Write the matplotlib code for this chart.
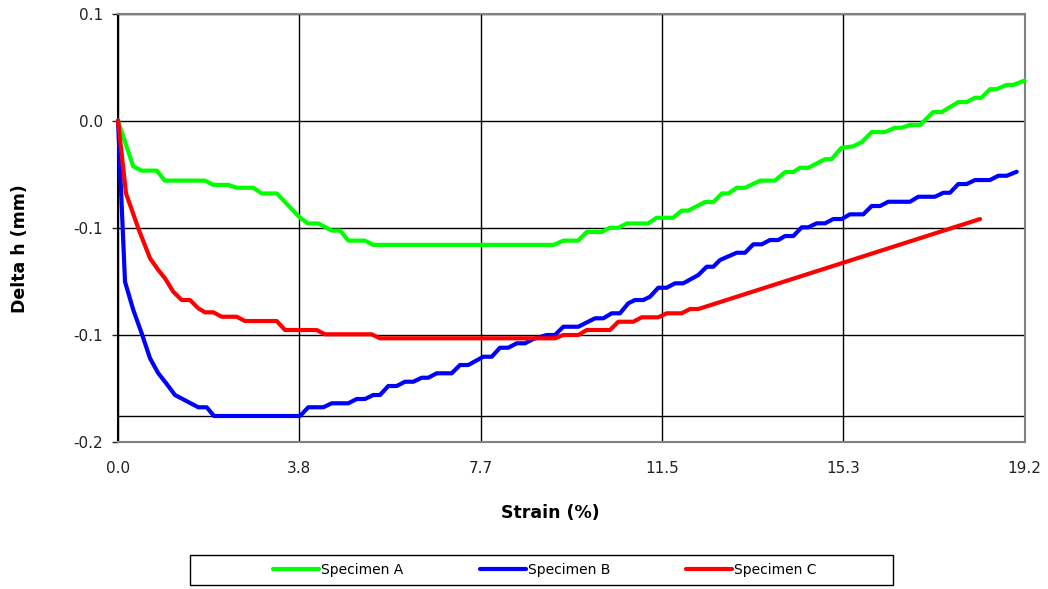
import matplotlib
matplotlib.use("Agg")
import matplotlib.pyplot as plt
from matplotlib.patches import Rectangle

# Strain (%) / Delta h (mm)
strain_a = [0, 0.32, 0.50, 0.82, 0.99, 1.84, 2.02, 2.33, 2.51, 2.86, 3.04, 3.36,
            3.85, 4.02, 4.24, 4.52, 4.70, 4.87, 5.22, 5.40, 9.21, 9.42, 9.73, 9.91,
            10.23, 10.40, 10.58, 10.76, 11.21, 11.39, 11.74, 11.92, 12.06, 12.41,
            12.59, 12.77, 12.91, 13.08, 13.26, 13.58, 13.89, 14.11, 14.28, 14.42,
            14.60, 14.95, 15.09, 15.30, 15.55, 15.73, 15.94, 16.22, 16.43, 16.57,
            16.75, 16.96, 17.24, 17.42, 17.77, 17.95, 18.12, 18.26, 18.44, 18.58,
            18.79, 18.93, 19.17]
delta_a = [0.025, -0.007, -0.010, -0.010, -0.017, -0.017, -0.020, -0.020, -0.022,
           -0.022, -0.026, -0.026, -0.043, -0.047, -0.047, -0.052, -0.052, -0.059,
           -0.059, -0.062, -0.062, -0.059, -0.059, -0.053, -0.053, -0.050, -0.050,
           -0.047, -0.047, -0.043, -0.043, -0.038, -0.038, -0.032, -0.032, -0.026,
           -0.026, -0.022, -0.022, -0.017, -0.017, -0.011, -0.011, -0.008, -0.008,
           -0.002, -0.002, 0.006, 0.007, 0.010, 0.017, 0.017, 0.020, 0.020, 0.022,
           0.022, 0.031, 0.031, 0.038, 0.038, 0.041, 0.041, 0.047, 0.047, 0.050,
           0.050, 0.053]

strain_b = [0, 0.042, 0.148, 0.324, 0.501, 0.677, 0.852, 0.994, 1.205, 1.698, 1.876,
            2.030, 3.849, 4.024, 4.341, 4.519, 4.870, 5.048, 5.223, 5.399, 5.540,
            5.716, 5.894, 6.069, 6.245, 6.422, 6.562, 6.740, 7.057, 7.232, 7.408,
            7.725, 7.903, 8.078, 8.254, 8.431, 8.607, 8.782, 9.066, 9.241, 9.417,
            9.734, 10.087, 10.263, 10.440, 10.616, 10.791, 10.933, 11.108, 11.250,
            11.426, 11.603, 11.779, 11.954, 12.272, 12.449, 12.589, 12.730, 13.084,
            13.259, 13.435, 13.613, 13.788, 13.963, 14.105, 14.280, 14.458, 14.598,
            14.775, 14.951, 15.126, 15.304, 15.479, 15.761, 15.938, 16.114, 16.289,
            16.748, 16.924, 17.277, 17.453, 17.594, 17.770, 17.947, 18.123, 18.440,
            18.616, 18.793, 19.005]
delta_b = [0.025, -0.007, -0.0878, -0.1076, -0.1239, -0.1414, -0.1519, -0.1578,
           -0.1671, -0.1757, -0.1757, -0.1818, -0.1818, -0.1757, -0.1757, -0.1729,
           -0.1729, -0.1699, -0.1699, -0.1671, -0.1671, -0.1608, -0.1608, -0.1578,
           -0.1578, -0.1550, -0.1550, -0.1519, -0.1519, -0.1461, -0.1461, -0.1403,
           -0.1403, -0.1340, -0.1340, -0.1309, -0.1309, -0.1279, -0.1251, -0.1251,
           -0.1193, -0.1193, -0.1134, -0.1134, -0.1099, -0.1099, -0.1029, -0.1006,
           -0.1006, -0.0983, -0.0920, -0.0920, -0.0889, -0.0889, -0.0831, -0.0773,
           -0.0773, -0.0726, -0.0675, -0.0675, -0.0616, -0.0616, -0.0586, -0.0586,
           -0.0558, -0.0558, -0.0497, -0.0497, -0.0469, -0.0469, -0.0439, -0.0439,
           -0.0406, -0.0406, -0.0348, -0.0348, -0.0318, -0.0318, -0.0283, -0.0283,
           -0.0255, -0.0255, -0.0194, -0.0194, -0.0166, -0.0166, -0.0136, -0.0136,
           -0.0108]

strain_c = [0, 0.169, 0.429, 0.677, 0.852, 0.994, 1.169, 1.347, 1.523, 1.698, 1.840,
            2.015, 2.193, 2.510, 2.686, 3.356, 3.532, 4.202, 4.377, 5.365, 5.540,
            9.241, 9.417, 9.734, 9.912, 10.404, 10.580, 10.897, 11.075, 11.426,
            11.603, 11.920, 12.096, 12.272, 18.229]
delta_c = [0.025, -0.0259, -0.0504, -0.0714, -0.0796, -0.0854, -0.0948, -0.1006,
           -0.1006, -0.1064, -0.1092, -0.1092, -0.1123, -0.1123, -0.1153, -0.1153,
           -0.1216, -0.1216, -0.1246, -0.1246, -0.1274, -0.1274, -0.1251, -0.1251,
           -0.1216, -0.1216, -0.1158, -0.1158, -0.1127, -0.1127, -0.1099, -0.1099,
           -0.1069, -0.1069, -0.0439]

series_names = ["Specimen A", "Specimen B", "Specimen C"]
series_colors = ["#00ff00", "#0000ff", "#ff0000"]

x_ticks = [0, 3.834, 7.668, 11.502, 15.336, 19.17]
x_ticklabels = ["0.0", "3.8", "7.7", "11.5", "15.3", "19.2"]
y_ticks = [0.1, 0.025, -0.05, -0.125, -0.2]
y_ticklabels = ["0.1", "0.0", "-0.1", "-0.1", "-0.2"]

plt.rcParams["font.family"] = ["DejaVu Sans"]

W, H = 1048, 589
fig = plt.figure(figsize=(W / 100, H / 100), dpi=100)
ax = fig.add_axes([118 / W, 1 - 442 / H, 906.5 / W, 428.5 / H])

ax.set_xlim(0, 19.17)
ax.set_ylim(-0.2, 0.1)
ax.set_xticks(x_ticks)
ax.set_xticklabels(x_ticklabels)
ax.set_yticks(y_ticks)
ax.set_yticklabels(y_ticklabels)

ax.grid(True, color="black", linewidth=1, zorder=0)
ax.set_axisbelow(True)
# reference line at the lowest reading of Specimen B
ax.axhline(min(delta_b), color="black", linewidth=1, zorder=1)

for xs, ys, name, col in zip([strain_a, strain_b, strain_c],
                             [delta_a, delta_b, delta_c],
                             series_names, series_colors):
    ax.plot(xs, ys, color=col, linewidth=3, label=name, zorder=3,
            solid_joinstyle="round", solid_capstyle="round", clip_on=False)

for side in ["top", "right", "bottom"]:
    ax.spines[side].set_color("#808080")
    ax.spines[side].set_linewidth(1.5)
ax.spines["left"].set_color("black")
ax.spines["left"].set_linewidth(1.5)

ax.tick_params(axis="y", direction="out", length=4, width=1, pad=7,
               labelsize=11, colors="#222222")
ax.tick_params(axis="x", length=0, pad=14, labelsize=11, colors="#222222")

fig.text(20 / W, 1 - 249 / H, "Delta h (mm)", rotation=90, ha="center",
         va="center", fontsize=12.5, fontweight="bold")
fig.text(550 / W, 1 - 513 / H, "Strain (%)", ha="center", va="center",
         fontsize=12.5, fontweight="bold")

handles, labels = ax.get_legend_handles_labels()
fig.legend(handles, labels, loc="center", ncol=3, frameon=False,
           bbox_to_anchor=(545 / W, 1 - 570 / H), fontsize=10,
           handlelength=3.3, handletextpad=0.15, columnspacing=5.5)
fig.patches.append(Rectangle((190 / W, 1 - 585 / H), 703 / W, 30 / H,
                             transform=fig.transFigure, fill=False,
                             edgecolor="black", linewidth=1))

fig.savefig("out.png", dpi=100)
